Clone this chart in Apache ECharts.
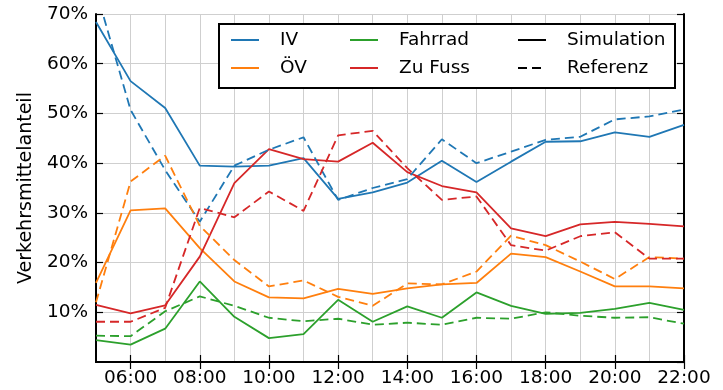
<!DOCTYPE html>
<html>
<head>
<meta charset="utf-8">
<script src="https://cdn.jsdelivr.net/npm/echarts@6/dist/echarts.min.js"></script>
<style>html,body{margin:0;padding:0;background:#fff}#c{width:723px;height:390px}</style>
</head>
<body>
<div id="c"></div>
<script>
var hours = ['05:00','06:00','07:00','08:00','09:00','10:00','11:00','12:00','13:00','14:00','15:00','16:00','17:00','18:00','19:00','20:00','21:00','22:00'];
var yTicks = [0,10,20,30,40,50,60,70];

var ivSim  = [68.4,56.5,51.1,39.5,39.3,39.5,41.0,32.8,34.1,36.1,40.5,36.2,40.3,44.3,44.4,46.2,45.3,47.7];
var ivRef  = [74.8,50.7,38.6,28.2,39.5,42.7,45.2,32.6,35.0,36.8,44.8,40.0,42.3,44.7,45.3,48.8,49.4,50.8];
var ovSim  = [15.9,30.5,30.9,22.9,16.2,13.0,12.8,14.7,13.7,14.8,15.6,15.9,21.8,21.1,18.2,15.2,15.2,14.8];
var ovRef  = [12.0,36.3,41.5,27.4,20.5,15.2,16.4,13.1,11.3,15.8,15.6,18.2,25.4,23.5,20.2,16.7,21.1,20.8];
var radSim = [4.4,3.5,6.7,16.2,9.1,4.8,5.6,12.5,8.1,11.2,8.9,14.0,11.3,9.7,9.9,10.7,11.9,10.5];
var radRef = [5.3,5.2,10.2,13.2,11.3,8.9,8.2,8.7,7.5,7.9,7.5,8.9,8.7,10.0,9.3,8.9,9.0,7.7];
var fussSim= [11.5,9.8,11.4,21.2,36.0,42.8,40.8,40.3,44.1,38.2,35.4,34.1,26.9,25.3,27.7,28.2,27.8,27.3];
var fussRef= [8.1,8.1,10.9,31.0,29.1,34.3,30.4,45.6,46.5,39.0,32.6,33.3,23.5,22.4,25.3,26.1,20.8,20.8];

var C = {iv:'#1f77b4', ov:'#ff7f0e', rad:'#2ca02c', fuss:'#d62728'};
var FONT = 'DejaVu Sans';
var dash = [9,5];

function line(name, data, color, dashed, idx) {
  return {
    name: name, type: 'line', data: data, symbol: 'none', z: 2 + idx * 0.01,
    lineStyle: {color: color, width: 1.8, type: dashed ? dash : 'solid'},
    itemStyle: {color: color}, animation: false
  };
}

var series = [
  line('IV', ivSim, C.iv, false, 1),
  line('ÖV', ovSim, C.ov, false, 2),
  line('Fahrrad', radSim, C.rad, false, 3),
  line('Zu Fuss', fussSim, C.fuss, false, 4),
  line('IV', ivRef, C.iv, true, 5),
  line('ÖV', ovRef, C.ov, true, 6),
  line('Fahrrad', radRef, C.rad, true, 7),
  line('Zu Fuss', fussRef, C.fuss, true, 8),
  line('Simulation', [], '#000', false, 9),
  line('Referenz', [], '#000', true, 10)
];

function evenIdx(i){ return i % 2 === 1; }

function mkLegend(left, names) {
  return {
    orient: 'vertical', itemWidth: 28, itemHeight: 14, itemGap: 8, z: 10,
    selectedMode: false, padding: 0, left: left, top: 30, data: names,
    itemStyle: {opacity: 0, borderWidth: 0},
    textStyle: {fontFamily: FONT, fontSize: 18.5, color: '#000', lineHeight: 20, padding: [0,0,0,16]}
  };
}

var option = {
  animation: false,
  grid: {left: 96, top: 14, right: 39, bottom: 28},
  legend: [
    mkLegend(230, ['IV','ÖV']),
    mkLegend(349, ['Fahrrad','Zu Fuss']),
    mkLegend(517, ['Simulation','Referenz'])
  ],
  graphic: [{
    type: 'rect', z: 5, left: 218, top: 23,
    shape: {width: 456, height: 64},
    style: {fill: '#fff', stroke: '#000', lineWidth: 2}
  }],
  xAxis: [{
    type: 'category', data: hours, boundaryGap: false,
    axisLine: {lineStyle: {color: '#000', width: 2}},
    axisTick: {inside: true, length: 7, interval: function(i){return evenIdx(i);}, lineStyle: {color: '#000', width: 1.2}},
    axisLabel: {interval: function(i){return evenIdx(i);}, color: '#000', fontFamily: FONT, fontSize: 18.5, margin: 7},
    splitLine: {show: true, interval: 0, lineStyle: {color: '#cfcfcf', width: 1}}
  }, {
    type: 'category', data: hours, boundaryGap: false, position: 'top',
    axisLine: {lineStyle: {color: '#000', width: 2}},
    axisTick: {inside: true, length: 7, interval: function(i){return evenIdx(i);}, lineStyle: {color: '#000', width: 1.2}},
    axisLabel: {show: false}, splitLine: {show: false}
  }],
  yAxis: [{
    type: 'value', min: yTicks[0], max: yTicks[yTicks.length-1], interval: 10,
    name: 'Verkehrsmittelanteil', nameLocation: 'middle', nameRotate: 90, nameGap: 60,
    nameTextStyle: {fontFamily: FONT, fontSize: 19, color: '#000'},
    axisLine: {show: true, lineStyle: {color: '#000', width: 2}},
    axisTick: {show: true, inside: true, length: 7, lineStyle: {color: '#000', width: 1.2}},
    axisLabel: {showMinLabel: false, formatter: '{value}%', color: '#000', fontFamily: FONT, fontSize: 18.5, margin: 8},
    splitLine: {show: true, lineStyle: {color: '#cfcfcf', width: 1}}
  }, {
    type: 'value', min: yTicks[0], max: yTicks[yTicks.length-1], interval: 10, position: 'right',
    axisLine: {show: true, lineStyle: {color: '#000', width: 2}},
    axisTick: {show: true, inside: true, length: 7, lineStyle: {color: '#000', width: 1.2}},
    axisLabel: {show: false}, splitLine: {show: false}
  }],
  series: series
};

var chart = echarts.init(document.getElementById('c'), null, {renderer: 'canvas'});
chart.setOption(option);
</script>
</body>
</html>
